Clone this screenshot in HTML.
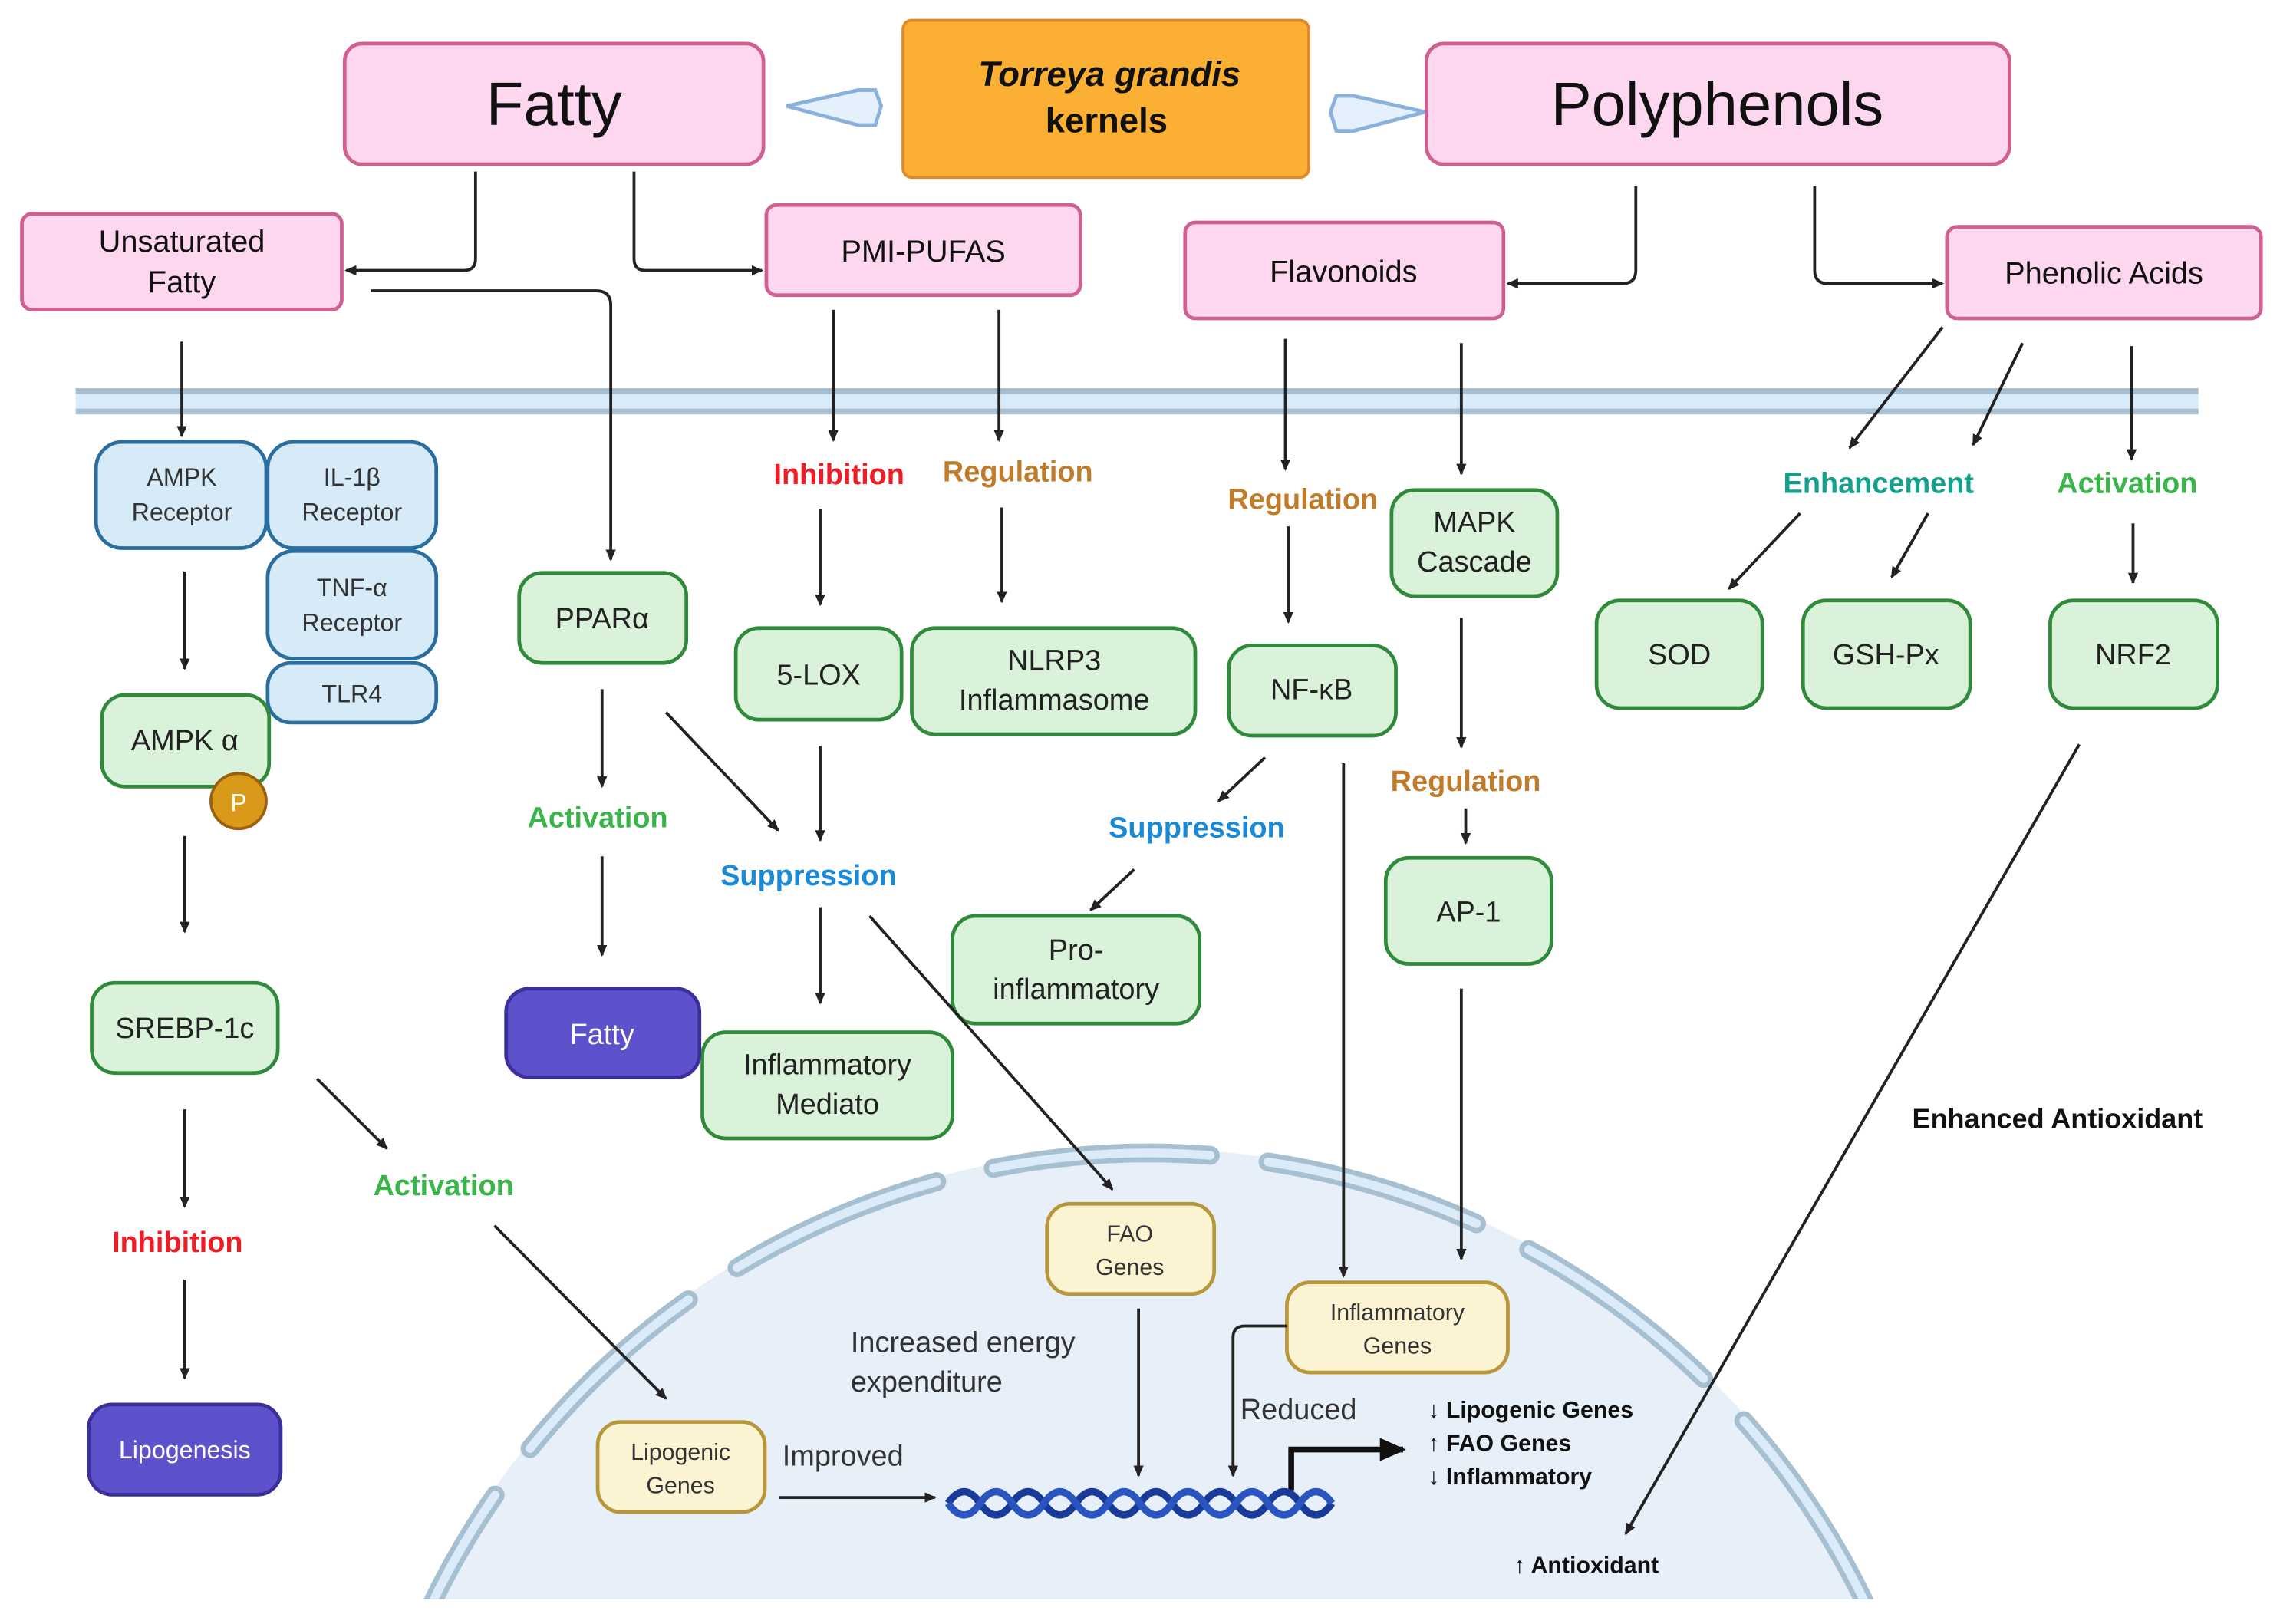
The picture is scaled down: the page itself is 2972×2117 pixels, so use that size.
<!DOCTYPE html>
<html><head><meta charset="utf-8"><style>
html,body{margin:0;padding:0;background:#fff;width:2972px;height:2117px;overflow:hidden}
svg{display:block}
text{font-family:"Liberation Sans",sans-serif}
</style></head><body>
<svg width="2972" height="2117" viewBox="0 0 1568 1117" xmlns="http://www.w3.org/2000/svg">
<defs>
<marker id="a" markerWidth="8" markerHeight="8" refX="7" refY="4" orient="auto" markerUnits="userSpaceOnUse"><path d="M0,0.5 L8,4 L0,7.5 Z" fill="#222"/></marker>
<marker id="b" markerWidth="20" markerHeight="20" refX="16" refY="10" orient="auto" markerUnits="userSpaceOnUse"><path d="M0,2 L18,10 L0,18 Z" fill="#111"/></marker>
<clipPath id="cp"><rect x="0" y="0" width="1568" height="1100"/></clipPath>
</defs>
<rect width="1568" height="1117" fill="#fff"/>
<g clip-path="url(#cp)">
<circle cx="790" cy="1340" r="550" fill="#e7eff8"/>
<circle cx="790" cy="1340" r="547" fill="none" stroke="#a6bfd1" stroke-width="13" stroke-linecap="round" stroke-dasharray="150 40"/>
<circle cx="790" cy="1340" r="547" fill="none" stroke="#dcebf8" stroke-width="6" stroke-linecap="round" stroke-dasharray="150 40"/>
</g>
<rect x="52" y="267" width="1460" height="18" fill="#d8ebf8"/>
<line x1="52" y1="269" x2="1512" y2="269" stroke="#a8bfd2" stroke-width="4"/>
<line x1="52" y1="283" x2="1512" y2="283" stroke="#a8bfd2" stroke-width="4"/>

<g fill="#fdd7ef" stroke="#d0608f" stroke-width="2.5">
<rect x="237" y="30" width="288" height="83" rx="12"/>
<rect x="981" y="30" width="401" height="83" rx="12"/>
<rect x="15" y="147" width="220" height="66" rx="7"/>
<rect x="527" y="141" width="216" height="62" rx="7"/>
<rect x="815" y="153" width="219" height="66" rx="7"/>
<rect x="1339" y="156" width="216" height="63" rx="7"/>
</g>
<rect x="621" y="14" width="279" height="108" rx="6" fill="#fbb034" stroke="#e0882a" stroke-width="2"/>
<path d="M541,73 L590,62 L602,62 L606,73 L602,86 L590,86 Z" fill="#e4f0fb" stroke="#8ab0dc" stroke-width="2.5"/>
<path d="M980,77 L931,66 L919,66 L915,77 L919,90 L931,90 Z" fill="#e4f0fb" stroke="#8ab0dc" stroke-width="2.5"/>

<g text-anchor="middle" fill="#111">
<text x="381" y="86" font-size="42">Fatty</text>
<text x="1181" y="86" font-size="42">Polyphenols</text>
<text x="125" y="173" font-size="21">Unsaturated</text>
<text x="125" y="201" font-size="21">Fatty</text>
<text x="635" y="180" font-size="21">PMI-PUFAS</text>
<text x="924" y="194" font-size="21">Flavonoids</text>
<text x="1447" y="195" font-size="21">Phenolic Acids</text>
<text x="763" y="59" font-size="24" font-weight="bold" font-style="italic">Torreya grandis</text>
<text x="761" y="91" font-size="24" font-weight="bold">kernels</text>
</g>

<g fill="#d6eaf8" stroke="#2a6ea0" stroke-width="2.5">
<rect x="66" y="304" width="117" height="73" rx="18"/>
<rect x="184" y="304" width="116" height="73" rx="18"/>
<rect x="184" y="379" width="116" height="74" rx="18"/>
<rect x="184" y="456" width="116" height="41" rx="16"/>
</g>
<g text-anchor="middle" fill="#333" font-size="17">
<text x="125" y="334">AMPK</text><text x="125" y="358">Receptor</text>
<text x="242" y="334">IL-1β</text><text x="242" y="358">Receptor</text>
<text x="242" y="410">TNF-α</text><text x="242" y="434">Receptor</text>
<text x="242" y="483">TLR4</text>
</g>

<g fill="#d9f2d9" stroke="#2f8a3a" stroke-width="2.5">
<rect x="70" y="478" width="115" height="63" rx="16"/>
<rect x="63" y="676" width="128" height="62" rx="16"/>
<rect x="357" y="394" width="115" height="62" rx="16"/>
<rect x="506" y="432" width="114" height="63" rx="16"/>
<rect x="627" y="432" width="195" height="73" rx="16"/>
<rect x="845" y="444" width="115" height="62" rx="16"/>
<rect x="957" y="337" width="114" height="73" rx="16"/>
<rect x="953" y="590" width="114" height="73" rx="16"/>
<rect x="655" y="630" width="170" height="74" rx="16"/>
<rect x="483" y="710" width="172" height="73" rx="16"/>
<rect x="1098" y="413" width="114" height="74" rx="16"/>
<rect x="1240" y="413" width="115" height="74" rx="16"/>
<rect x="1410" y="413" width="115" height="74" rx="16"/>
</g>
<circle cx="164" cy="551" r="19" fill="#d99a1a" stroke="#9a6010" stroke-width="2"/>
<text x="164" y="558" font-size="17" fill="#fff" text-anchor="middle">P</text>
<g text-anchor="middle" fill="#222" font-size="20">
<text x="127" y="516">AMPK α</text>
<text x="127" y="714">SREBP-1c</text>
<text x="414" y="432">PPARα</text>
<text x="563" y="471">5-LOX</text>
<text x="725" y="461">NLRP3</text><text x="725" y="488">Inflammasome</text>
<text x="902" y="481">NF-κB</text>
<text x="1014" y="366">MAPK</text><text x="1014" y="393">Cascade</text>
<text x="1010" y="634">AP-1</text>
<text x="740" y="660">Pro-</text><text x="740" y="687">inflammatory</text>
<text x="569" y="739">Inflammatory</text><text x="569" y="766">Mediato</text>
<text x="1155" y="457">SOD</text>
<text x="1297" y="457">GSH-Px</text>
<text x="1467" y="457">NRF2</text>
</g>

<g fill="#5e52cc" stroke="#3b2f9a" stroke-width="2.5">
<rect x="348" y="680" width="133" height="61" rx="16"/>
<rect x="61" y="966" width="132" height="62" rx="16"/>
</g>
<text x="414" y="718" font-size="20" fill="#fff" text-anchor="middle">Fatty</text>
<text x="127" y="1003" font-size="17" fill="#fff" text-anchor="middle">Lipogenesis</text>

<g fill="#fbf3d2" stroke="#b8963a" stroke-width="2.5">
<rect x="720" y="828" width="115" height="62" rx="16"/>
<rect x="885" y="882" width="152" height="62" rx="16"/>
<rect x="411" y="978" width="115" height="62" rx="16"/>
</g>
<g text-anchor="middle" fill="#333" font-size="16">
<text x="777" y="854">FAO</text><text x="777" y="877">Genes</text>
<text x="961" y="908">Inflammatory</text><text x="961" y="931">Genes</text>
<text x="468" y="1004">Lipogenic</text><text x="468" y="1027">Genes</text>
</g>

<g text-anchor="middle" font-weight="bold" font-size="20">
<text x="577" y="333" fill="#ee1c24">Inhibition</text>
<text x="122" y="861" fill="#ee1c24">Inhibition</text>
<text x="700" y="331" fill="#c07c2a">Regulation</text>
<text x="896" y="350" fill="#c07c2a">Regulation</text>
<text x="1008" y="544" fill="#c07c2a">Regulation</text>
<text x="411" y="569" fill="#39b54a">Activation</text>
<text x="305" y="822" fill="#39b54a">Activation</text>
<text x="1463" y="339" fill="#39b54a">Activation</text>
<text x="556" y="609" fill="#1a8ad4">Suppression</text>
<text x="823" y="576" fill="#1a8ad4">Suppression</text>
<text x="1292" y="339" fill="#14a08c">Enhancement</text>
<text x="1415" y="776" fill="#111" font-size="19">Enhanced Antioxidant</text>
</g>
<g fill="#333" font-size="20">
<text x="585" y="930">Increased energy</text>
<text x="585" y="957">expenditure</text>
<text x="538" y="1008">Improved</text>
<text x="853" y="976">Reduced</text>
</g>
<g fill="#111" font-size="16" font-weight="bold">
<text x="982" y="975">↓ Lipogenic Genes</text>
<text x="982" y="998">↑ FAO Genes</text>
<text x="982" y="1021">↓ Inflammatory</text>
<text x="1041" y="1082">↑ Antioxidant</text>
</g>

<g fill="none" stroke="#222" stroke-width="2" marker-end="url(#a)">
<path d="M327,118 V178 Q327,186 319,186 H238"/>
<path d="M436,118 V178 Q436,186 444,186 H524"/>
<path d="M255,200 H410 Q420,200 420,210 V385"/>
<path d="M1125,128 V186 Q1125,195 1116,195 H1037"/>
<path d="M1248,128 V186 Q1248,195 1257,195 H1336"/>
<path d="M125,235 V300"/>
<path d="M127,393 V460"/>
<path d="M127,575 V641"/>
<path d="M127,763 V830"/>
<path d="M127,880 V948"/>
<path d="M218,742 L266,790"/>
<path d="M340,843 L458,962"/>
<path d="M414,474 V541"/>
<path d="M414,589 V657"/>
<path d="M458,490 L535,571"/>
<path d="M573,213 V303"/>
<path d="M687,213 V303"/>
<path d="M564,350 V416"/>
<path d="M689,349 V414"/>
<path d="M564,513 V578"/>
<path d="M564,624 V690"/>
<path d="M598,630 L765,818"/>
<path d="M884,233 V323"/>
<path d="M1005,236 V326"/>
<path d="M886,362 V428"/>
<path d="M1005,425 V514"/>
<path d="M1008,556 V580"/>
<path d="M1005,680 V866"/>
<path d="M924,525 V878"/>
<path d="M870,521 L838,551"/>
<path d="M780,598 L750,626"/>
<path d="M1336,225 L1272,308"/>
<path d="M1391,236 L1357,306"/>
<path d="M1466,238 V316"/>
<path d="M1238,353 L1189,405"/>
<path d="M1326,353 L1301,397"/>
<path d="M1467,360 V401"/>
<path d="M1430,512 L1118,1055"/>
<path d="M783,900 V1015"/>
<path d="M885,912 H856 Q848,912 848,920 V1015"/>
<path d="M536,1030 H643"/>
</g>
<path d="M888,1025 V997 H965" fill="none" stroke="#111" stroke-width="4" marker-end="url(#b)"/>

<g fill="none" stroke-width="5">
<path stroke="#1a3a9a" d="M652,1034 Q663,1018 674,1034 T696,1034 T718,1034 T740,1034 T762,1034 T784,1034 T806,1034 T828,1034 T850,1034 T872,1034 T894,1034 T916,1034"/>
<path stroke="#2a55c0" d="M652,1034 Q663,1050 674,1034 T696,1034 T718,1034 T740,1034 T762,1034 T784,1034 T806,1034 T828,1034 T850,1034 T872,1034 T894,1034 T916,1034"/>
</g>
</svg>
</body></html>
